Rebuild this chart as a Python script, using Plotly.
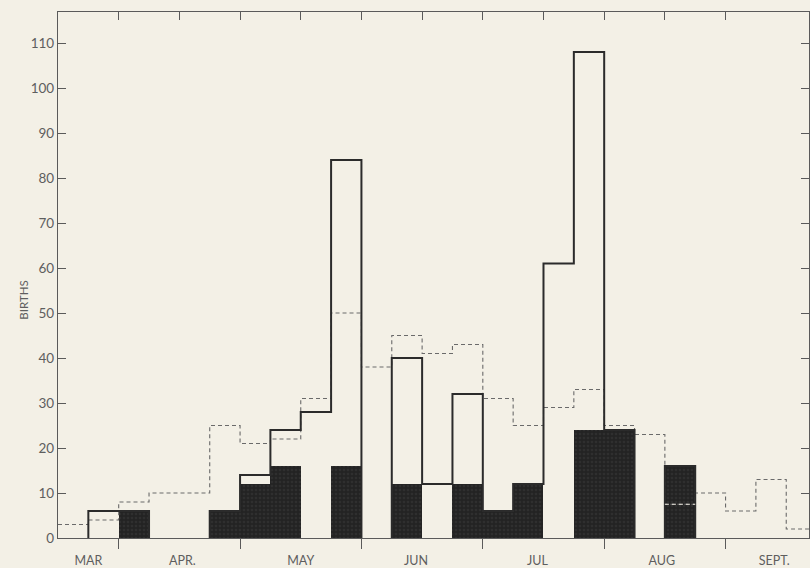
import plotly.graph_objects as go

# Bin index: each bin is a quarter month; bin 0 starts at April 1.
bins = list(range(-2, 23))
# Total births (outlined histogram)
total = [0, 6, 6, 0, 0, 6, 14, 24, 28, 84, 0, 40, 12, 32, 6, 12, 61, 108, 24, 0, 16, 0, 0, 0, 0]
# Births shown as black bars
black = [0, 0, 6, 0, 0, 6, 12, 16, 0, 16, 0, 12, 0, 12, 6, 12, 0, 24, 24, 0, 16, 0, 0, 0, 0]
# Dashed comparison series
dashed = [3, 4, 8, 10, 10, 25, 21, 22, 31, 50, 38, 45, 41, 43, 31, 25, 29, 33, 25, 23, 7.5, 10, 6, 13, 2]

month_labels = ["MAR", "APR.", "MAY", "JUN", "JUL", "AUG", "SEPT."]
month_label_pos = [-1, 2.1, 6, 9.8, 13.8, 17.9, 21.6]
month_bounds = [0, 4, 8, 12, 16, 20]
half_month_ticks = [0, 2, 4, 6, 8, 10, 12, 14, 16, 18, 20]
y_ticks = [0, 10, 20, 30, 40, 50, 60, 70, 80, 90, 100, 110]

BG = "#f3f0e6"
INK = "#2b2b2b"
AX = "#5a5a5a"
TXT = "#5e5e5e"

# outlined step histogram, broken into runs of non-zero bins
ox, oy = [], []
k = 0
n = len(bins)
while k < n:
    if total[k] > 0:
        xs, ys = [bins[k]], [0]
        while k < n and total[k] > 0:
            xs += [bins[k], bins[k] + 1]
            ys += [total[k], total[k]]
            k += 1
        xs.append(bins[k - 1] + 1)
        ys.append(0)
        ox += xs + [None]
        oy += ys + [None]
    else:
        k += 1

# dashed step line
dx, dy = [], []
for b, v in zip(bins, dashed):
    dx += [b, b + 1]
    dy += [v, v]

# white dashed segments where the dashed line lies inside a black bar
wx, wy = [], []
for b, v, bl in zip(bins, dashed, black):
    if v < bl:
        wx += [b, b + 1, None]
        wy += [v, v, None]

fig = go.Figure()
fig.add_trace(go.Bar(
    x=[b + 0.5 for b in bins], y=black, width=1,
    marker=dict(color="#262626", line=dict(width=0),
                pattern=dict(shape=".", fgcolor="#3c3c3c", bgcolor="#232323", size=4, solidity=0.35)),
    hoverinfo="skip", showlegend=False))
fig.add_trace(go.Scatter(
    x=dx, y=dy, mode="lines", line=dict(color="#6a6a6a", width=1.1, dash="4px,3px"),
    hoverinfo="skip", showlegend=False))
fig.add_trace(go.Scatter(
    x=ox, y=oy, mode="lines", line=dict(color=INK, width=2),
    hoverinfo="skip", showlegend=False, connectgaps=False))
if wx:
    fig.add_trace(go.Scatter(
        x=wx, y=wy, mode="lines", line=dict(color="#f3f0e6", width=1.2, dash="4px,3px"),
        hoverinfo="skip", showlegend=False, connectgaps=False))
# invisible trace for the top axis
fig.add_trace(go.Scatter(x=[0], y=[0], xaxis="x2", mode="markers",
                         marker=dict(opacity=0), hoverinfo="skip", showlegend=False))

xr = [-2, 22.75]
fig.update_layout(
    width=810, height=568,
    margin=dict(l=58, r=1, t=12, b=30, autoexpand=False),
    paper_bgcolor=BG, plot_bgcolor=BG,
    bargap=0,
    xaxis=dict(range=xr, showgrid=False, zeroline=False, automargin=False,
               showline=True, linecolor=AX, linewidth=1.3,
               tickvals=month_label_pos, ticktext=month_labels,
               ticks="outside", ticklen=11, tickcolor="rgba(0,0,0,0)",
               tickfont=dict(family="Lato, sans-serif", size=12.5, color=TXT),
               minor=dict(tickvals=month_bounds, ticks="outside", ticklen=10,
                          tickcolor=AX, tickwidth=1.3)),
    xaxis2=dict(range=xr, overlaying="x", side="top", showgrid=False, zeroline=False,
                automargin=False,
                showline=True, linecolor=AX, linewidth=1.3,
                tickvals=half_month_ticks, ticks="inside", ticklen=8,
                tickcolor=AX, tickwidth=1.3, showticklabels=False),
    yaxis=dict(range=[0, 116.9], showgrid=False, zeroline=False, automargin=False,
               showline=True, linecolor=AX, linewidth=1.3, mirror="ticks",
               tickvals=y_ticks, ticks="inside", ticklen=8, tickcolor=AX, tickwidth=1.3,
               tickfont=dict(family="Lato, sans-serif", size=13.5, color=TXT)),
    annotations=[dict(text="BIRTHS", textangle=-90, xref="paper", yref="paper",
                      x=-0.057, y=0.4525, showarrow=False,
                      font=dict(family="Lato, sans-serif", size=11.5, color=TXT))],
)
fig.write_html("out.html", config={"displayModeBar": False},
               post_script="document.body.style.margin='0px';"
                           "document.body.style.background='#f3f0e6';")
